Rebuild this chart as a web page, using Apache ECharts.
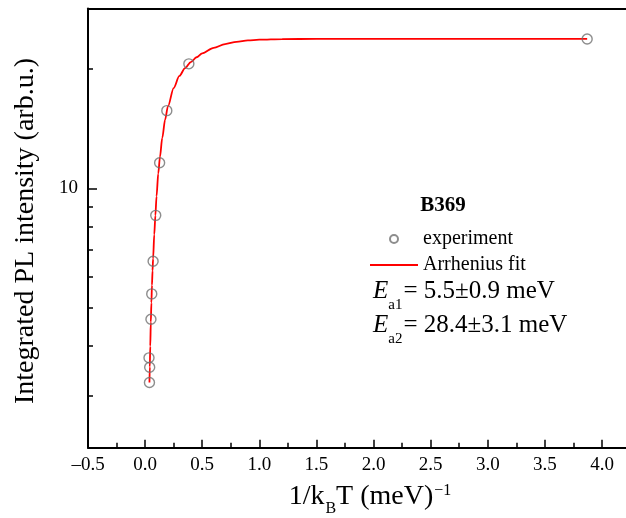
<!DOCTYPE html>
<html><head><meta charset="utf-8">
<script src="https://cdn.jsdelivr.net/npm/echarts@6/dist/echarts.min.js"></script>
<style>html,body{margin:0;padding:0;background:#fff}#c{width:626px;height:518px}</style>
</head><body><div id="c"></div>
<script>
// ---- data ----
const expX = [3.87, 0.383, 0.190, 0.127, 0.093, 0.070, 0.058, 0.051, 0.034, 0.040, 0.038];
const expY = [23.8, 20.6, 15.7, 11.6, 8.55, 6.55, 5.42, 4.68, 3.74, 3.54, 3.24];
const fitX = [0.038, 0.041, 0.045, 0.050, 0.055, 0.060, 0.065, 0.070, 0.080, 0.090, 0.100, 0.115, 0.130, 0.150, 0.175, 0.200, 0.250, 0.300, 0.350, 0.400, 0.450, 0.500, 0.600, 0.700, 0.800, 0.900, 1.000, 1.200, 1.500, 2.000, 3.000, 3.870];
const fitY = [3.24, 3.55, 4.0, 4.6, 5.15, 5.7, 6.2, 6.65, 7.65, 8.55, 9.55, 10.9, 12.0, 13.4, 14.9, 16.1, 17.9, 19.2, 20.1, 20.8, 21.4, 21.9, 22.6, 23.1, 23.4, 23.6, 23.7, 23.78, 23.8, 23.8, 23.8, 23.8];
const xTickValues = [-0.5, 0, 0.5, 1.0, 1.5, 2.0, 2.5, 3.0, 3.5, 4.0];
const xMinorTicks = [-0.25, 0.25, 0.75, 1.25, 1.75, 2.25, 2.75, 3.25, 3.75];
const yMajorTicks = [10];
const yMinorTicks = [3, 4, 5, 6, 7, 8, 9, 20];
const seriesNames = ['experiment', 'Arrhenius fit'];
const sampleName = 'B369';
const energyLines = [['a1', '= 5.5±0.9 meV'], ['a2', '= 28.4±3.1 meV']];

// ---- layout ----
const FONT = '"Liberation Serif", "Times New Roman", serif';
const ctx = document.createElement('canvas').getContext('2d');
function measure(text, size, style, weight) {
  ctx.font = `${style || 'normal'} ${weight || 'normal'} ${size}px ${FONT}`;
  return ctx.measureText(text).width;
}
function txt(x, y, text, size, opts) {
  opts = opts || {};
  return {
    type: 'text', x: x, y: y, rotation: opts.rotation || 0, silent: true,
    style: {
      text: text, fill: '#000', fontFamily: FONT, fontSize: size,
      fontStyle: opts.style || 'normal', fontWeight: opts.weight || 'normal',
      font: `${opts.style || 'normal'} ${opts.weight || 'normal'} ${size}px ${FONT}`,
      textAlign: opts.align || 'left', align: opts.align || 'left',
      textVerticalAlign: 'middle', verticalAlign: 'middle'
    }
  };
}
function chainWidth(pieces) {
  return pieces.reduce((s, p) => s + (p.pre || 0) + measure(p.text, p.size, p.style, p.weight), 0);
}
function chain(x0, pieces) {
  let x = x0; const out = [];
  pieces.forEach(p => {
    x += (p.pre || 0);
    out.push(txt(x, p.y, p.text, p.size, p));
    x += measure(p.text, p.size, p.style, p.weight);
  });
  return out;
}

const graphics = [];
graphics.push(txt(26, 231, 'Integrated PL intensity (arb.u.)', 28, {align: 'center', rotation: Math.PI / 2}));
const xTitle = [
  {text: '1/k', size: 28, y: 497},
  {text: 'B', size: 16, y: 508.5, pre: 1},
  {text: 'T (meV)', size: 28, y: 497},
  {text: '−1', size: 16, y: 491, pre: 1}
];
chain(370 - chainWidth(xTitle) / 2, xTitle).forEach(g => graphics.push(g));
graphics.push(txt(443, 206, sampleName, 21, {align: 'center', weight: 'bold'}));
const eY = [291.3, 325.8];
energyLines.forEach((l, i) => {
  chain(373, [
    {text: 'E', size: 25, y: eY[i], style: 'italic'},
    {text: l[0], size: 15, y: eY[i] + 13.5, pre: 0},
    {text: l[1], size: 25, y: eY[i], pre: 1}
  ]).forEach(g => graphics.push(g));
});

const chart = echarts.init(document.getElementById('c'), null, {renderer: 'canvas'});
const xMin = -0.5, xMax = 4.21, yMin = 2.22, yMax = 28.4;
const tickLabel = {fontFamily: FONT, fontSize: 19, color: '#000'};
chart.setOption({
  animation: false,
  backgroundColor: '#fff',
  grid: {left: 88, right: 0, top: 8.5, bottom: 70.3, containLabel: false, outerBoundsMode: 'none'},
  legend: {
    orient: 'vertical', left: 370, top: 229, padding: 0,
    itemWidth: 48, itemHeight: 8, itemGap: 6, selectedMode: false,
    textStyle: {fontFamily: FONT, fontSize: 20, color: '#000', lineHeight: 20},
    data: [
      {name: seriesNames[0], icon: 'circle'},
      {name: seriesNames[1], icon: 'path://M0,0L48,0L48,1.8L0,1.8Z'}
    ]
  },
  xAxis: [
    {type: 'value', min: xMin, max: xMax, position: 'bottom',
     axisLine: {onZero: false, lineStyle: {color: '#000', width: 2}},
     axisTick: {inside: true, length: 8, customValues: xTickValues, lineStyle: {color: '#000', width: 1.5}},
     axisLabel: Object.assign({customValues: xTickValues, margin: 8,
       formatter: v => Number(v).toFixed(1).replace('-', '–')}, tickLabel),
     splitLine: {show: false}},
    {type: 'value', min: xMin, max: xMax, position: 'bottom',
     axisLine: {show: false, onZero: false},
     axisTick: {inside: true, length: 5, customValues: xMinorTicks, lineStyle: {color: '#000', width: 1.5}},
     axisLabel: {show: false}, splitLine: {show: false}},
    {type: 'value', min: xMin, max: xMax, position: 'top',
     axisLine: {onZero: false, lineStyle: {color: '#000', width: 2}},
     axisTick: {show: false}, axisLabel: {show: false}, splitLine: {show: false}}
  ],
  yAxis: [
    {type: 'log', logBase: 10, min: yMin, max: yMax, position: 'left',
     axisLine: {onZero: false, lineStyle: {color: '#000', width: 2}},
     axisTick: {inside: true, length: 9, customValues: yMajorTicks, lineStyle: {color: '#000', width: 1.5}},
     axisLabel: Object.assign({customValues: yMajorTicks, margin: 10}, tickLabel),
     splitLine: {show: false}, minorTick: {show: false}},
    {type: 'log', logBase: 10, min: yMin, max: yMax, position: 'left',
     axisLine: {show: false, onZero: false},
     axisTick: {inside: true, length: 5, customValues: yMinorTicks, lineStyle: {color: '#000', width: 1.5}},
     axisLabel: {show: false}, splitLine: {show: false}}
  ],
  series: [
    {name: seriesNames[1], type: 'line', xAxisIndex: 0, yAxisIndex: 0,
     data: fitX.map((x, i) => [x, fitY[i]]), symbol: 'none', smooth: 0.3, smoothMonotone: 'x',
     lineStyle: {color: '#ff0000', width: 1.8}, itemStyle: {color: '#ff0000'}, z: 2},
    {name: seriesNames[0], type: 'scatter', xAxisIndex: 0, yAxisIndex: 0,
     data: expX.map((x, i) => [x, expY[i]]), symbol: 'circle', symbolSize: 10,
     itemStyle: {color: 'rgba(255,255,255,0)', borderColor: '#707070', borderWidth: 1.4}, z: 3}
  ],
  graphic: graphics
});
</script>
</body></html>
